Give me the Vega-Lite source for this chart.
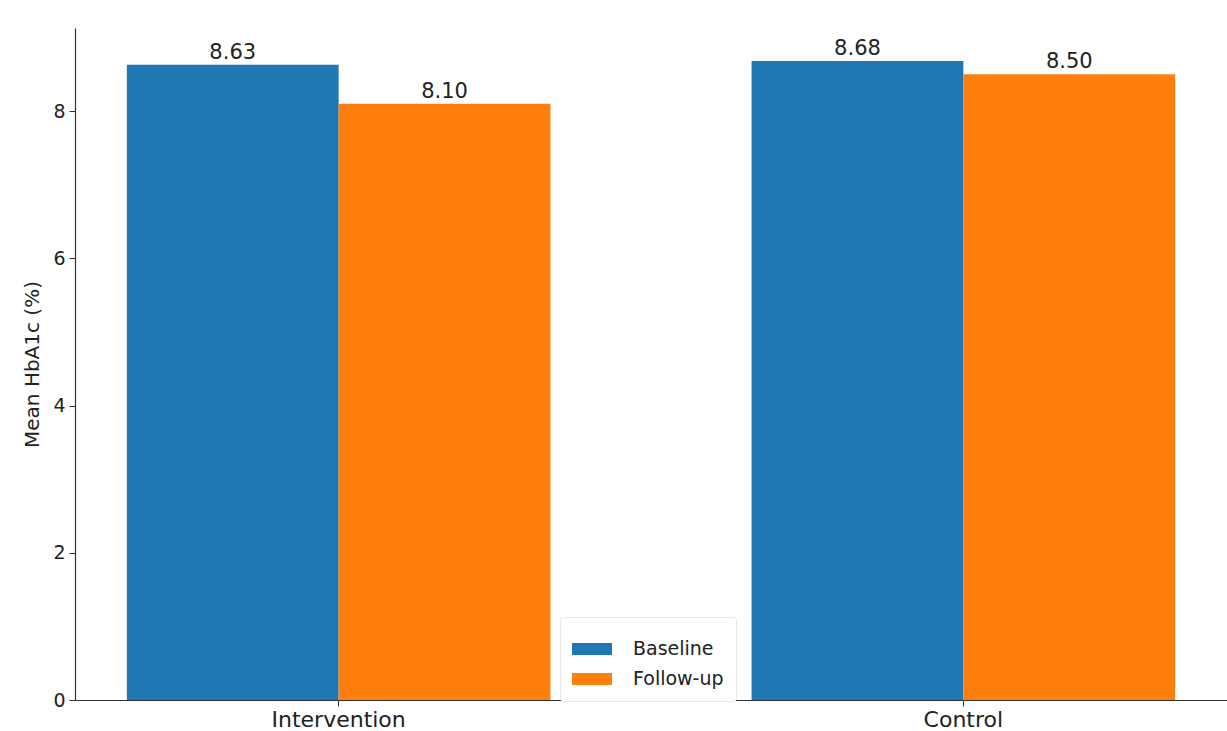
{
  "$schema": "https://vega.github.io/schema/vega-lite/v6.json",
  "width": 1152,
  "height": 672,
  "autosize": {"type": "none"},
  "padding": {"left": 75, "top": 28, "right": 0, "bottom": 31},
  "background": "white",
  "config": {
    "view": {"stroke": null},
    "font": "DejaVu Sans",
    "legend": {
      "orient": "none",
      "legendX": 485,
      "legendY": 589,
      "fillColor": "white",
      "strokeColor": "#e6e6e6",
      "padding": 12,
      "cornerRadius": 3,
      "labelFontSize": 19,
      "labelColor": "#222222",
      "symbolType": "M-1,-0.3L1,-0.3L1,0.3L-1,0.3Z",
      "symbolSize": 1600,
      "symbolStrokeWidth": 0,
      "rowPadding": 0,
      "labelOffset": 21
    }
  },
  "data": {
    "values": [
      {"group": "Intervention", "period": "Baseline", "value": 8.63},
      {"group": "Intervention", "period": "Follow-up", "value": 8.10},
      {"group": "Control", "period": "Baseline", "value": 8.68},
      {"group": "Control", "period": "Follow-up", "value": 8.50}
    ]
  },
  "encoding": {
    "x": {
      "field": "group",
      "type": "nominal",
      "sort": ["Intervention", "Control"],
      "scale": {"paddingInner": 0.322, "paddingOuter": 0.083},
      "axis": {
        "title": null,
        "labelAngle": 0,
        "labelFontSize": 22,
        "labelColor": "#222222",
        "tickSize": 6,
        "tickColor": "#333333",
        "domainColor": "#333333",
        "domainWidth": 1.2,
        "labelPadding": 3
      }
    },
    "xOffset": {"field": "period", "type": "nominal", "sort": ["Baseline", "Follow-up"]},
    "y": {
      "field": "value",
      "type": "quantitative",
      "scale": {"domain": [0, 9.13], "nice": false},
      "axis": {
        "title": "Mean HbA1c (%)",
        "titleFontSize": 20,
        "titleFontWeight": "normal",
        "titleColor": "#222222",
        "titlePadding": 10,
        "values": [0, 2, 4, 6, 8],
        "grid": false,
        "labelFontSize": 19,
        "labelColor": "#222222",
        "tickSize": 6,
        "tickColor": "#333333",
        "domainColor": "#333333",
        "domainWidth": 1.2,
        "labelPadding": 4
      }
    }
  },
  "layer": [
    {
      "mark": {"type": "bar"},
      "encoding": {
        "color": {
          "field": "period",
          "type": "nominal",
          "sort": ["Baseline", "Follow-up"],
          "scale": {"domain": ["Baseline", "Follow-up"], "range": ["#1f77b4", "#ff7f0e"]},
          "legend": {"title": null}
        }
      }
    },
    {
      "mark": {"type": "text", "baseline": "bottom", "dy": -2, "fontSize": 21, "color": "#222222"},
      "encoding": {
        "text": {"field": "value", "type": "quantitative", "format": ".2f"}
      }
    }
  ]
}
